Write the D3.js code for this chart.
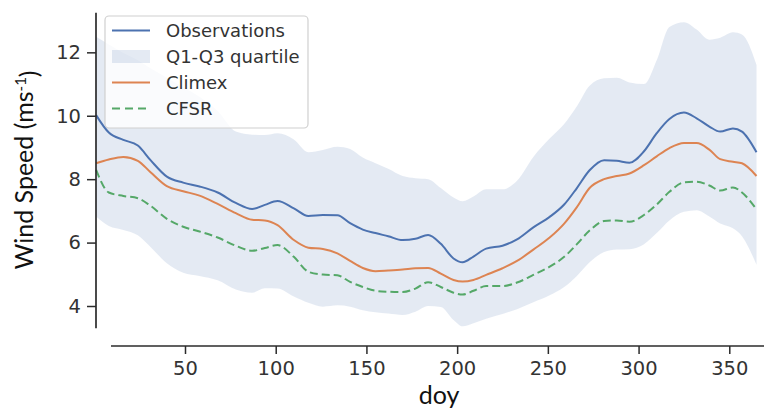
<!DOCTYPE html>
<html>
<head>
<meta charset="utf-8">
<script src="https://cdn.jsdelivr.net/npm/d3@7"></script>
<style>
  html, body { margin: 0; padding: 0; background: #ffffff; }
  svg { display: block; }
</style>
</head>
<body>
<svg id="chart" width="764" height="419"></svg>
<script>
// Day of year samples
const days = [1, 8, 16, 24, 31, 40, 49, 58, 68, 78, 87, 94, 101, 110, 118, 126, 134, 141, 148, 155,
  162, 170, 177, 184, 191, 198, 203, 209, 216, 225, 233, 242, 251, 259, 266, 273, 281, 288, 295, 303,
  310, 317, 325, 332, 339, 345, 352, 357, 365];

// Mean wind speed (m/s)
const observations = [10.02, 9.47, 9.24, 9.06, 8.6, 8.08, 7.89, 7.77, 7.58, 7.25, 7.06, 7.19, 7.31, 7.08, 6.84, 6.87, 6.86, 6.61, 6.41, 6.3,
  6.2, 6.08, 6.12, 6.24, 5.96, 5.5, 5.38, 5.56, 5.81, 5.9, 6.1, 6.48, 6.81, 7.2, 7.72, 8.28, 8.6, 8.58, 8.52, 8.88,
  9.45, 9.9, 10.1, 9.92, 9.66, 9.5, 9.6, 9.5, 8.85];

const climex = [8.5, 8.62, 8.7, 8.58, 8.22, 7.78, 7.62, 7.48, 7.22, 6.93, 6.72, 6.7, 6.55, 6.08, 5.84, 5.8, 5.66, 5.42, 5.2, 5.1,
  5.12, 5.15, 5.19, 5.2, 5.02, 4.82, 4.77, 4.82, 4.98, 5.19, 5.42, 5.78, 6.16, 6.6, 7.12, 7.72, 8.0, 8.1, 8.18, 8.44,
  8.72, 8.98, 9.14, 9.14, 8.93, 8.63, 8.55, 8.5, 8.1];

const cfsr = [8.29, 7.58, 7.47, 7.4, 7.16, 6.75, 6.5, 6.35, 6.16, 5.9, 5.74, 5.83, 5.92, 5.55, 5.08, 4.99, 4.97, 4.76, 4.6, 4.48,
  4.45, 4.44, 4.55, 4.75, 4.6, 4.42, 4.36, 4.48, 4.63, 4.63, 4.74, 4.98, 5.24, 5.55, 5.95, 6.38, 6.68, 6.7, 6.66, 6.87,
  7.2, 7.6, 7.9, 7.92, 7.8, 7.64, 7.74, 7.58, 7.05];

// Observed inter-quartile range
const q1 = [6.82, 6.52, 6.4, 6.23, 5.86, 5.35, 5.05, 4.95, 4.81, 4.52, 4.42, 4.56, 4.55, 4.3, 4.1, 3.98, 4.02, 3.98, 3.87, 3.8,
  3.76, 3.72, 3.82, 4.0, 3.97, 3.56, 3.36, 3.46, 3.6, 3.75, 3.9, 4.12, 4.34, 4.6, 4.95, 5.38, 5.7, 5.78, 5.79, 5.95,
  6.3, 6.7, 6.97, 7.02, 6.82, 6.6, 6.45, 6.2, 5.3];

const q3 = [12.49, 12.25, 11.98, 11.75, 11.5, 11.2, 10.9, 10.6, 10.15, 9.5, 9.4, 9.39, 9.45, 9.25, 8.85, 8.92, 9.02, 8.95, 8.68, 8.5,
  8.33, 8.1, 8.03, 8.0, 7.72, 7.42, 7.3, 7.45, 7.68, 7.68, 7.95, 8.7, 9.28, 9.74, 10.3, 10.95, 11.18, 11.2, 11.05, 11.0,
  11.75, 12.8, 12.95, 12.72, 12.4, 12.46, 12.63, 12.56, 11.6];

const xTicks = [50, 100, 150, 200, 250, 300, 350];
const yTicks = [4, 6, 8, 10, 12];

const colors = { obs: "#4c72b0", climex: "#dd8452", cfsr: "#55a868", band: "#4c72b0", axis: "#2b2b2b", text: "#333333" };
const tickFont = "'DejaVu Sans', sans-serif";
const labelFont = "Lato, 'Open Sans', sans-serif";

const svg = d3.select("#chart");

const x = d3.scaleLinear().domain([1, 365]).range([96.1, 756.5]);
const y = d3.scaleLinear().domain([3.3, 13.25]).range([328.2, 12.7]);

const rows = days.map((d, i) => ({ d, obs: observations[i], cl: climex[i], cf: cfsr[i], lo: q1[i], hi: q3[i] }));

// Quartile band
const area = d3.area()
  .x(r => x(r.d))
  .y0(r => y(r.lo))
  .y1(r => y(r.hi))
  .curve(d3.curveMonotoneX);

svg.append("path")
  .datum(rows)
  .attr("d", area)
  .attr("fill", colors.band)
  .attr("fill-opacity", 0.15);

function lineFor(key) {
  return d3.line().x(r => x(r.d)).y(r => y(r[key])).curve(d3.curveMonotoneX);
}

svg.append("path").datum(rows).attr("d", lineFor("cf"))
  .attr("fill", "none").attr("stroke", colors.cfsr).attr("stroke-width", 2)
  .attr("stroke-dasharray", "8,4");
svg.append("path").datum(rows).attr("d", lineFor("cl"))
  .attr("fill", "none").attr("stroke", colors.climex).attr("stroke-width", 2);
svg.append("path").datum(rows).attr("d", lineFor("obs"))
  .attr("fill", "none").attr("stroke", colors.obs).attr("stroke-width", 2);

// Y axis (left spine)
const yAxis = svg.append("g")
  .attr("transform", "translate(96,0)")
  .call(d3.axisLeft(y).tickValues(yTicks).tickSize(9).tickPadding(6).tickFormat(d3.format("d")));
yAxis.select(".domain").attr("stroke", colors.axis).attr("stroke-width", 1.7)
  .attr("d", `M0,${y.range()[0]}V${y.range()[1]}`);
yAxis.selectAll(".tick line").attr("stroke", colors.axis).attr("stroke-width", 1.5);
yAxis.selectAll(".tick text").attr("fill", colors.text)
  .style("font-family", tickFont).style("font-size", "19.5px");

// X axis (bottom spine, offset below the data)
const xAxis = svg.append("g")
  .attr("transform", "translate(0,346)")
  .call(d3.axisBottom(x).tickValues(xTicks).tickSize(8).tickPadding(7).tickFormat(d3.format("d")));
xAxis.select(".domain").attr("stroke", colors.axis).attr("stroke-width", 1.7)
  .attr("d", "M111,0H764");
xAxis.selectAll(".tick line").attr("stroke", colors.axis).attr("stroke-width", 1.5);
xAxis.selectAll(".tick text").attr("fill", colors.text)
  .style("font-family", tickFont).style("font-size", "19.5px");

// Axis titles
svg.append("text")
  .attr("x", 439).attr("y", 404)
  .attr("text-anchor", "middle")
  .style("font-family", labelFont).style("font-size", "25px")
  .attr("fill", "#111")
  .text("doy");

const yl = svg.append("text")
  .attr("transform", "translate(33,170) rotate(-90)")
  .attr("text-anchor", "middle")
  .style("font-family", labelFont).style("font-size", "25px")
  .attr("fill", "#111");
yl.append("tspan").text("Wind Speed (ms");
yl.append("tspan").attr("dy", "-0.45em").style("font-size", "15px").text("-1");
yl.append("tspan").attr("dy", "0.45em").text(")");

// Legend
const legend = svg.append("g");
legend.append("rect")
  .attr("x", 105).attr("y", 16).attr("width", 203).attr("height", 112)
  .attr("rx", 4)
  .attr("fill", "#ffffff").attr("fill-opacity", 0.8)
  .attr("stroke", "#d0d0d0").attr("stroke-width", 1.2);

const entries = [
  { label: "Observations", type: "line", color: colors.obs },
  { label: "Q1-Q3 quartile", type: "patch", color: colors.band },
  { label: "Climex", type: "line", color: colors.climex },
  { label: "CFSR", type: "dash", color: colors.cfsr }
];

entries.forEach((e, i) => {
  const cy = 30.5 + i * 26;
  if (e.type === "patch") {
    legend.append("rect").attr("x", 112).attr("y", cy - 6.5).attr("width", 38).attr("height", 13)
      .attr("fill", e.color).attr("fill-opacity", 0.15);
  } else {
    const ln = legend.append("line").attr("x1", 112).attr("x2", 150).attr("y1", cy).attr("y2", cy)
      .attr("stroke", e.color).attr("stroke-width", 2);
    if (e.type === "dash") ln.attr("stroke-dasharray", "8,5");
  }
  legend.append("text")
    .attr("x", 166).attr("y", cy + 6.5)
    .style("font-family", tickFont).style("font-size", "18px")
    .attr("fill", colors.text)
    .text(e.label);
});
</script>
</body>
</html>
